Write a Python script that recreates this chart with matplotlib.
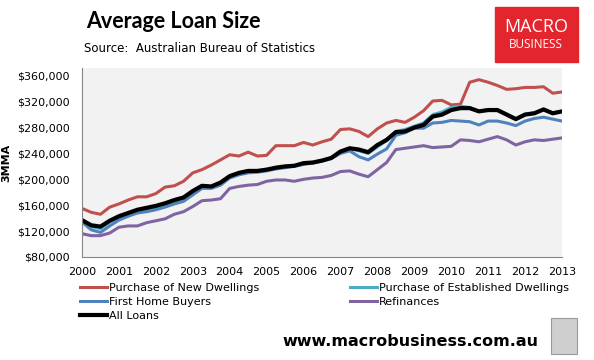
import numpy as np
import matplotlib.pyplot as plt
from matplotlib.patches import Rectangle

# quarterly readings, $'000
dates = np.arange(2000, 2013.01, 0.25)

new_dwellings = [155, 149, 146, 157, 162, 168, 173, 173, 178, 188, 190, 197, 210, 215, 222, 230,
                 238, 236, 242, 236, 237, 252, 252, 252, 257, 253, 258, 262, 277, 278, 274, 266,
                 278, 287, 291, 288, 296, 306, 321, 322, 315, 316, 350, 354, 350, 345, 339, 340,
                 342, 342, 343, 333, 335]
established = [136, 127, 124, 134, 141, 146, 151, 154, 157, 161, 166, 170, 180, 188, 188, 194,
               204, 209, 212, 212, 214, 217, 219, 221, 224, 226, 229, 233, 242, 248, 244, 240,
               250, 260, 274, 277, 282, 287, 300, 304, 311, 313, 311, 305, 308, 308, 301, 294,
               301, 303, 307, 303, 305]
first_home = [134, 122, 118, 128, 137, 143, 148, 150, 153, 157, 162, 166, 176, 186, 186, 191,
              202, 207, 210, 211, 213, 216, 218, 220, 223, 225, 228, 232, 240, 244, 235, 230,
              239, 247, 268, 272, 279, 279, 287, 288, 291, 290, 289, 284, 290, 290, 287, 283,
              290, 294, 296, 293, 290]
refinances = [116, 113, 113, 117, 126, 128, 128, 133, 136, 139, 146, 150, 158, 167, 168, 170,
              186, 189, 191, 192, 197, 199, 199, 197, 200, 202, 203, 206, 212, 213, 208, 204,
              215, 226, 246, 248, 250, 252, 249, 250, 251, 261, 260, 258, 262, 266, 261, 253,
              258, 261, 260, 262, 264]
all_loans = [137, 129, 127, 136, 143, 148, 153, 156, 159, 163, 168, 172, 182, 190, 189, 195,
             205, 210, 213, 213, 215, 218, 220, 221, 225, 226, 229, 233, 243, 248, 246, 242,
             253, 261, 273, 274, 280, 284, 297, 300, 307, 310, 310, 305, 307, 307, 300, 293,
             300, 302, 308, 302, 305]

years = list(range(2000, 2014))
y_ticks = list(range(80000, 360001, 40000))

fig = plt.figure(figsize=(5.94, 3.6), dpi=100)
ax = fig.add_axes([82 / 594, 1 - 257 / 360, 480 / 594, 189 / 360])
ax.set_facecolor('#f2f2f2')

k = 1000
l_new, = ax.plot(dates, np.array(new_dwellings) * k, color='#c0504d', lw=2.2)
l_est, = ax.plot(dates, np.array(established) * k, color='#4bacc6', lw=2.2)
l_fhb, = ax.plot(dates, np.array(first_home) * k, color='#4f81bd', lw=2.2)
l_ref, = ax.plot(dates, np.array(refinances) * k, color='#8064a2', lw=2.2)
l_all, = ax.plot(dates, np.array(all_loans) * k, color='black', lw=3)

ax.set_xlim(2000, 2013)
ax.set_ylim(80000, 372000)
ax.set_xticks(years)
ax.set_xticklabels([str(y) for y in years], fontsize=8)
ax.set_yticks(y_ticks)
ax.set_yticklabels(['${:,}'.format(v) for v in y_ticks], fontsize=8)
ax.tick_params(axis='y', length=0, pad=9)
ax.tick_params(axis='x', length=0, pad=7)
for s in ['top', 'right']:
    ax.spines[s].set_visible(False)
for s in ['left', 'bottom']:
    ax.spines[s].set_color('#868686')
ax.set_ylabel('3MMA', fontsize=8, fontweight='bold', labelpad=4)

handles = [l_new, l_fhb, l_all, l_est, l_ref]
labels = ['Purchase of New Dwellings', 'First Home Buyers', 'All Loans',
          'Purchase of Established Dwellings', 'Refinances']
fig.legend(handles, labels, ncol=2, loc='upper left', bbox_to_anchor=(80 / 594, 1 - 283 / 360),
           frameon=False, fontsize=8, handlelength=2.4, handletextpad=0.2,
           columnspacing=8.2, labelspacing=0.35, borderaxespad=0, borderpad=0)

fig.text(86 / 594, 1 - 22 / 360, 'Average Loan Size', fontsize=15.5, fontweight='bold',
         family='Lato', va='center')
fig.text(84 / 594, 1 - 49 / 360, 'Source:  Australian Bureau of Statistics', fontsize=8.5,
         va='center')

# logo
fig.patches.append(Rectangle((495 / 594, 1 - 62 / 360), 83 / 594, 55 / 360,
                             transform=fig.transFigure, color='#e3262d'))
fig.text(536 / 594, 1 - 27 / 360, 'MACRO', color='white', fontsize=13, ha='center',
         va='center', family='Open Sans')
fig.text(536 / 594, 1 - 44 / 360, 'BUSINESS', color='white', fontsize=8.5, ha='center',
         va='center', family='Open Sans')

fig.text(538 / 594, 1 - 342 / 360, 'www.macrobusiness.com.au', fontsize=11.5,
         fontweight='bold', ha='right', va='center')
fig.patches.append(Rectangle((551 / 594, 1 - 354 / 360), 26 / 594, 36 / 360,
                             transform=fig.transFigure, facecolor='#cfcfcf',
                             edgecolor='#9a9a9a', lw=0.8))

fig.savefig('out.png', dpi=100)
